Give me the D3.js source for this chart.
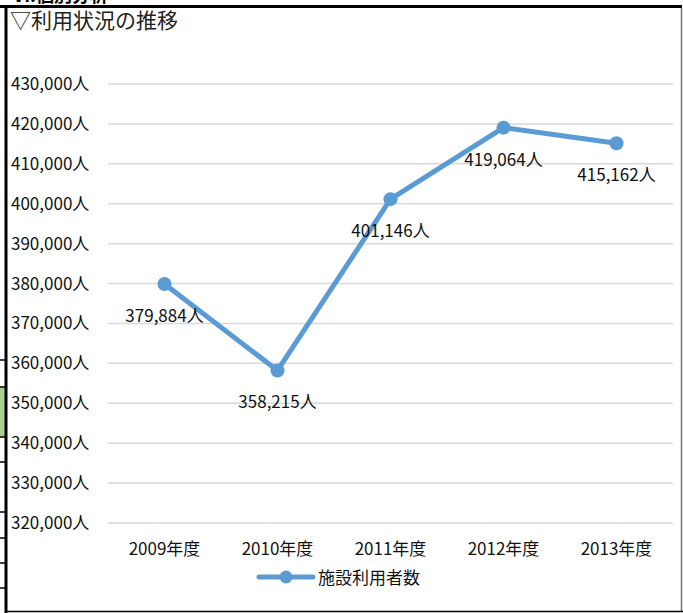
<!DOCTYPE html>
<html>
<head>
<meta charset="utf-8">
<script src="https://cdn.jsdelivr.net/npm/d3@7"></script>
<style>
  body { margin: 0; background: #fff; }
  svg { display: block; font-family: "Noto Sans CJK JP", "Noto Sans", sans-serif; }
</style>
</head>
<body>
<div id="chart"></div>
<script>
// data
const years = ["2009年度", "2010年度", "2011年度", "2012年度", "2013年度"];
const users = [379884, 358215, 401146, 419064, 415162];
const yTicks = [320000, 330000, 340000, 350000, 360000, 370000, 380000, 390000, 400000, 410000, 420000, 430000];
const seriesName = "施設利用者数";
const title = "▽利用状況の推移";

const W = 683, H = 613;
const plot = { left: 108, right: 673, top: 84, bottom: 523 };

const svg = d3.select("#chart").append("svg")
  .attr("width", W)
  .attr("height", H);

// cut-off sheet heading above the chart
svg.append("text")
  .attr("x", 13).attr("y", 2)
  .attr("font-size", 18).attr("font-weight", "bold")
  .text("VI.個別分析");

// spreadsheet cells peeking out on the left
svg.append("rect").attr("x", 0).attr("y", 387).attr("width", 6).attr("height", 50).attr("fill", "#a9d18e");
[360, 387, 437, 462, 512, 538, 563, 588].forEach(y => {
  svg.append("line").attr("x1", 0).attr("x2", 6).attr("y1", y).attr("y2", y)
    .attr("stroke", "#000").attr("stroke-width", 1.5);
});

// chart frame
svg.append("line").attr("x1", 0).attr("x2", 682).attr("y1", 6.5).attr("y2", 6.5).attr("stroke", "#000").attr("stroke-width", 3);
svg.append("line").attr("x1", 6).attr("x2", 6).attr("y1", 5).attr("y2", 613).attr("stroke", "#000").attr("stroke-width", 3);
svg.append("line").attr("x1", 681.5).attr("x2", 681.5).attr("y1", 8).attr("y2", 611).attr("stroke", "#777").attr("stroke-width", 1.5);
svg.append("line").attr("x1", 6).attr("x2", 683).attr("y1", 611.5).attr("y2", 611.5).attr("stroke", "#000").attr("stroke-width", 1.5);

// title
svg.append("text")
  .attr("x", 10).attr("y", 28)
  .attr("font-size", 21)
  .attr("fill", "#222")
  .text(title);

// scales
const x = d3.scaleBand().domain(years).range([plot.left, plot.right]);
const y = d3.scaleLinear().domain([320000, 430000]).range([plot.bottom, plot.top]);

// gridlines
svg.append("g")
  .selectAll("line")
  .data(yTicks)
  .join("line")
    .attr("x1", plot.left).attr("x2", plot.right)
    .attr("y1", d => y(d)).attr("y2", d => y(d))
    .attr("stroke", "#d9d9d9").attr("stroke-width", 1.5);

// y axis labels
const fmt = d3.format(",");
svg.append("g")
  .selectAll("text")
  .data(yTicks)
  .join("text")
    .attr("x", 11)
    .attr("y", d => y(d) + 6)
    .attr("font-size", 17)
    .attr("fill", "#111")
    .text(d => fmt(d) + "人");

// x axis labels
svg.append("g")
  .selectAll("text")
  .data(years)
  .join("text")
    .attr("x", d => x(d) + x.bandwidth() / 2)
    .attr("y", 555)
    .attr("text-anchor", "middle")
    .attr("font-size", 17)
    .attr("fill", "#111")
    .text(d => d);

const data = years.map((yr, i) => ({ yr, v: users[i] }));
const blue = "#5b9bd5";

const line = d3.line()
  .x(d => x(d.yr) + x.bandwidth() / 2)
  .y(d => y(d.v));

svg.append("path")
  .datum(data)
  .attr("d", line)
  .attr("fill", "none")
  .attr("stroke", blue)
  .attr("stroke-width", 5)
  .attr("stroke-linejoin", "round");

svg.append("g")
  .selectAll("circle")
  .data(data)
  .join("circle")
    .attr("cx", d => x(d.yr) + x.bandwidth() / 2)
    .attr("cy", d => y(d.v))
    .attr("r", 7)
    .attr("fill", blue);

// value labels below points
svg.append("g")
  .selectAll("text")
  .data(data)
  .join("text")
    .attr("x", d => x(d.yr) + x.bandwidth() / 2)
    .attr("y", d => y(d.v) + 38)
    .attr("text-anchor", "middle")
    .attr("font-size", 17)
    .attr("fill", "#111")
    .text(d => fmt(d.v) + "人");

// legend
const lg = svg.append("g");
lg.append("line").attr("x1", 259).attr("x2", 313).attr("y1", 577).attr("y2", 577)
  .attr("stroke", blue).attr("stroke-width", 5).attr("stroke-linecap", "round");
lg.append("circle").attr("cx", 286).attr("cy", 577).attr("r", 6.5).attr("fill", blue);
lg.append("text").attr("x", 318).attr("y", 583.5).attr("font-size", 17).attr("fill", "#111").text(seriesName);
</script>
</body>
</html>
